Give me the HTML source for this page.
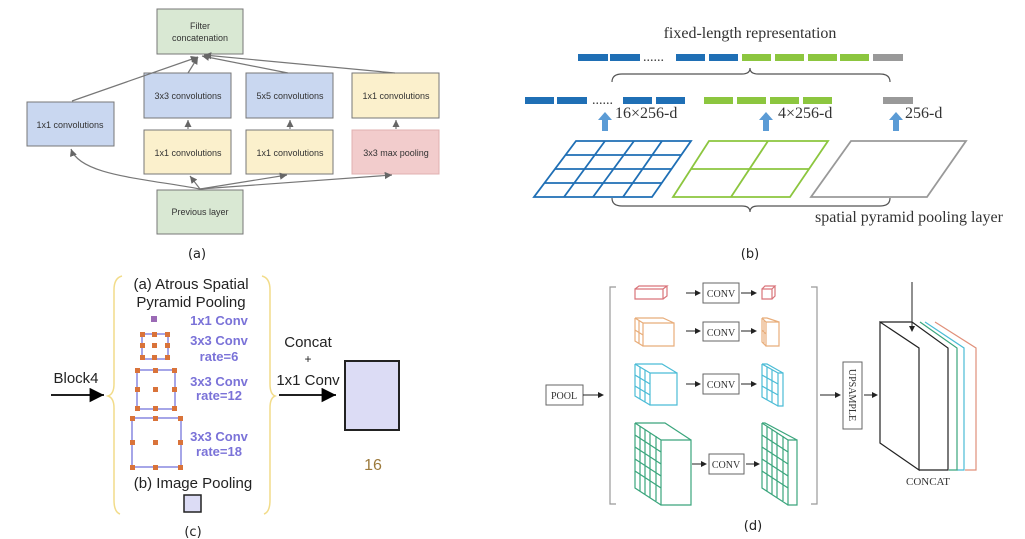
<!DOCTYPE html>
<html><head><meta charset="utf-8"><style>body{margin:0;background:#fff}svg{display:block}</style></head><body>
<svg width="1025" height="539" viewBox="0 0 1025 539" xmlns="http://www.w3.org/2000/svg">
<defs>
<marker id="ga" markerWidth="8" markerHeight="8" refX="6" refY="3" orient="auto"><path d="M0,0 L6,3 L0,6z" fill="#666"/></marker>
<marker id="ka" markerWidth="10" markerHeight="10" refX="8" refY="4" orient="auto"><path d="M0,0 L8,4 L0,8z" fill="#000"/></marker>
<marker id="sa" markerWidth="8" markerHeight="8" refX="5" refY="3" orient="auto"><path d="M0,0 L6,3 L0,6z" fill="#222"/></marker>
</defs>
<!-- (a) -->
<g stroke="#777" stroke-width="1">
<rect x="157" y="9" width="86" height="45" fill="#d9e8d3"/>
<rect x="144" y="73" width="87" height="45" fill="#c9d7f0"/>
<rect x="246" y="73" width="87" height="45" fill="#c9d7f0"/>
<rect x="352" y="73" width="87" height="45" fill="#fbf0cc"/>
<rect x="27" y="102" width="87" height="44" fill="#c9d7f0"/>
<rect x="144" y="130" width="87" height="44" fill="#fbf0cc"/>
<rect x="246" y="130" width="87" height="44" fill="#fbf0cc"/>
<rect x="352" y="130" width="87" height="44" fill="#f2cccc" stroke="#e0b0b0"/>
<rect x="157" y="190" width="86" height="44" fill="#d9e8d3"/>
</g>
<g fill="none" stroke="#777" stroke-width="1.2" marker-end="url(#ga)">
<path d="M72,101 L198,57"/><path d="M188,73 L198,57"/><path d="M288,73 L202,56"/><path d="M395,73 L204,55"/>
<path d="M188,129 L188,120"/><path d="M290,129 L290,120"/><path d="M396,129 L396,120"/>
<path d="M200,189 C140,178 80,175 71,149"/><path d="M200,189 L190,176"/><path d="M200,189 L287,175"/><path d="M200,189 L392,175"/>
</g>
<g font-family="Liberation Sans, sans-serif" font-size="9" fill="#333" text-anchor="middle">
<text x="200" y="29">Filter</text><text x="200" y="41">concatenation</text>
<text x="188" y="99">3x3 convolutions</text><text x="290" y="99">5x5 convolutions</text><text x="396" y="99">1x1 convolutions</text>
<text x="70" y="128">1x1 convolutions</text>
<text x="188" y="156">1x1 convolutions</text><text x="290" y="156">1x1 convolutions</text><text x="396" y="156">3x3 max pooling</text>
<text x="200" y="215">Previous layer</text>
</g>
<text x="197" y="258" font-family="DejaVu Sans, sans-serif" font-size="13" text-anchor="middle" fill="#222">(a)</text>
<!-- (b) -->
<g font-family="Liberation Serif, serif" font-size="16" fill="#333">
<text x="750" y="38" text-anchor="middle">fixed-length representation</text>
<text x="615" y="118">16×256-d</text><text x="778" y="118">4×256-d</text><text x="905" y="118">256-d</text>
<text x="815" y="222">spatial pyramid pooling layer</text>
<text x="643" y="61" font-size="14">......</text><text x="592" y="104" font-size="14">......</text>
</g>
<g fill="#1f6fb5">
<rect x="578" y="54" width="30" height="7"/><rect x="610" y="54" width="30" height="7"/><rect x="676" y="54" width="29" height="7"/><rect x="709" y="54" width="29" height="7"/>
<rect x="525" y="97" width="29" height="7"/><rect x="557" y="97" width="30" height="7"/><rect x="623" y="97" width="29" height="7"/><rect x="656" y="97" width="29" height="7"/>
</g>
<g fill="#8cc63f">
<rect x="742" y="54" width="29" height="7"/><rect x="775" y="54" width="29" height="7"/><rect x="808" y="54" width="29" height="7"/><rect x="840" y="54" width="29" height="7"/>
<rect x="704" y="97" width="29" height="7"/><rect x="737" y="97" width="29" height="7"/><rect x="770" y="97" width="29" height="7"/><rect x="803" y="97" width="29" height="7"/>
</g>
<g fill="#999"><rect x="873" y="54" width="30" height="7"/><rect x="883" y="97" width="30" height="7"/></g>
<g fill="#5b9bd5">
<path d="M602,131 h6 v-11 h4 l-7,-8 l-7,8 h4z"/><path d="M763,131 h6 v-11 h4 l-7,-8 l-7,8 h4z"/><path d="M893,131 h6 v-11 h4 l-7,-8 l-7,8 h4z"/>
</g>
<g fill="none" stroke="#555" stroke-width="1.2">
<path d="M612,82 Q612,74 622,74 L742,74 Q750,74 750,68 Q750,74 758,74 L880,74 Q890,74 890,82"/>
<path d="M612,198 Q612,206 622,206 L742,206 Q750,206 750,212 Q750,206 758,206 L880,206 Q890,206 890,198"/>
</g>
<g fill="none" stroke="#1f6fb5" stroke-width="1.8">
<path d="M576,141 L691,141 L652,197 L534,197Z"/>
<path d="M566,155 L681,155 M555,169 L671,169 M545,183 L662,183"/>
<path d="M605,141 L564,197 M634,141 L593,197 M662,141 L623,197"/>
</g>
<g fill="none" stroke="#8cc63f" stroke-width="1.8">
<path d="M709,141 L828,141 L790,197 L673,197Z"/><path d="M691,169 L809,169"/><path d="M768,141 L731,197"/>
</g>
<path d="M851,141 L966,141 L927,197 L811,197Z" fill="none" stroke="#999" stroke-width="1.8"/>
<text x="750" y="258" font-family="DejaVu Sans, sans-serif" font-size="13" text-anchor="middle" fill="#222">(b)</text>
<!-- (c) -->
<g fill="none" stroke="#f2dc8a" stroke-width="1.5">
<path d="M122,276 Q114,278 114,290 L114,384 Q114,394 108,396 Q114,398 114,408 L114,500 Q114,512 120,514"/>
<path d="M262,276 Q270,278 270,290 L270,384 Q270,394 275,396 Q270,398 270,408 L270,500 Q270,512 264,514"/>
</g>
<g font-family="Liberation Sans, sans-serif" font-size="15" fill="#222" text-anchor="middle">
<text x="191" y="289">(a) Atrous Spatial</text><text x="191" y="307">Pyramid Pooling</text>
<text x="193" y="488">(b) Image Pooling</text>
<text x="76" y="383">Block4</text>
<text x="308" y="347">Concat</text><text x="308" y="363" font-size="12">+</text><text x="308" y="385">1x1 Conv</text>
</g>
<g font-family="Liberation Sans, sans-serif" font-size="13" font-weight="bold" fill="#7a72d8" text-anchor="middle">
<text x="219" y="325">1x1 Conv</text>
<text x="219" y="345">3x3 Conv</text><text x="219" y="361">rate=6</text>
<text x="219" y="386">3x3 Conv</text><text x="219" y="400">rate=12</text>
<text x="219" y="441">3x3 Conv</text><text x="219" y="456">rate=18</text>
</g>
<rect x="151" y="316" width="6" height="6" fill="#9b6ab5"/>
<g fill="none" stroke="#6a6ad8" stroke-width="1.2">
<rect x="142" y="334" width="26" height="25"/><rect x="137" y="370" width="38" height="39"/><rect x="132" y="418" width="49" height="49"/>
</g>
<g fill="#d9733a">
<rect x="140" y="332" width="5" height="5"/><rect x="152" y="332" width="5" height="5"/><rect x="165" y="332" width="5" height="5"/>
<rect x="140" y="343" width="5" height="5"/><rect x="152" y="343" width="5" height="5"/><rect x="165" y="343" width="5" height="5"/>
<rect x="140" y="355" width="5" height="5"/><rect x="152" y="355" width="5" height="5"/><rect x="165" y="355" width="5" height="5"/>
<rect x="135" y="368" width="5" height="5"/><rect x="153" y="368" width="5" height="5"/><rect x="172" y="368" width="5" height="5"/>
<rect x="135" y="387" width="5" height="5"/><rect x="153" y="387" width="5" height="5"/><rect x="172" y="387" width="5" height="5"/>
<rect x="135" y="406" width="5" height="5"/><rect x="153" y="406" width="5" height="5"/><rect x="172" y="406" width="5" height="5"/>
<rect x="130" y="416" width="5" height="5"/><rect x="153" y="416" width="5" height="5"/><rect x="178" y="416" width="5" height="5"/>
<rect x="130" y="440" width="5" height="5"/><rect x="153" y="440" width="5" height="5"/><rect x="178" y="440" width="5" height="5"/>
<rect x="130" y="465" width="5" height="5"/><rect x="153" y="465" width="5" height="5"/><rect x="178" y="465" width="5" height="5"/>
</g>
<rect x="184" y="495" width="17" height="17" fill="#dcdcf5" stroke="#222" stroke-width="1.5"/>
<rect x="345" y="361" width="54" height="69" fill="#dcdcf5" stroke="#222" stroke-width="2"/>
<g stroke="#000" stroke-width="1.8" marker-end="url(#ka)"><path d="M51,395 L104,395"/><path d="M279,395 L336,395"/></g>
<text x="373" y="470" font-family="Liberation Sans, sans-serif" font-size="16" fill="#9c7a3c" text-anchor="middle">16</text>
<text x="193" y="536" font-family="DejaVu Sans, sans-serif" font-size="13" text-anchor="middle" fill="#222">(c)</text>
<!-- (d) -->
<g fill="none" stroke="#999" stroke-width="1.2">
<path d="M616,287 L610,287 L610,504 L616,504"/><path d="M811,287 L817,287 L817,504 L811,504"/>
</g>
<g font-family="Liberation Serif, serif" font-size="10" fill="#333" text-anchor="middle">
<rect x="546" y="385" width="37" height="20" fill="none" stroke="#666"/><text x="564" y="399">POOL</text>
<rect x="703" y="283" width="36" height="20" fill="none" stroke="#666"/><text x="721" y="297">CONV</text>
<rect x="703" y="322" width="36" height="19" fill="none" stroke="#666"/><text x="721" y="336">CONV</text>
<rect x="703" y="374" width="36" height="20" fill="none" stroke="#666"/><text x="721" y="388">CONV</text>
<rect x="709" y="454" width="35" height="20" fill="none" stroke="#666"/><text x="726" y="468">CONV</text>
<rect x="843" y="362" width="19" height="67" fill="none" stroke="#666"/>
<text transform="translate(849,395) rotate(90)" font-size="10">UPSAMPLE</text>
<text x="928" y="485" font-size="11">CONCAT</text>
</g>
<g stroke="#222" stroke-width="1" marker-end="url(#sa)" fill="none">
<path d="M583,395 L603,395"/><path d="M686,293 L700,293"/><path d="M741,293 L756,293"/>
<path d="M686,331 L700,331"/><path d="M741,331 L756,331"/><path d="M686,384 L700,384"/><path d="M741,384 L756,384"/>
<path d="M692,464 L706,464"/><path d="M746,464 L759,464"/>
<path d="M820,395 L840,395"/><path d="M864,395 L877,395"/><path d="M912,282 L912,331"/>
</g>
<g fill="none" stroke-width="1.2">
<g stroke="#d9747a"><path d="M635,289 h28 v10 h-28z M635,289 l4,-3 h28 l-4,3 M663,299 l4,-3 v-10"/><path d="M762,289 h10 v10 h-10z M762,289 l3,-3 h10 l-3,3 M772,299 l3,-3 v-10"/></g>
<g stroke="#e8ad7a"><path d="M643,323 h31 v23 h-31z M635,318 l8,5 M635,318 h28 l11,5 M635,318 v23 l8,5 M635,330 l8,5 M639,320 v23"/><path d="M766,322 h13 v24 h-13z M762,318 l4,4 M762,318 h5 l12,4 M762,318 v24 l4,4 M762,330 l4,4 M764,320 v24"/></g>
<g stroke="#4bbcd6"><path d="M650,373 h27 v32 h-27z M635,364 l15,9 M635,364 h27 l15,9 M635,364 v32 l15,9 M635,375 l15,9 M635,386 l15,9 M640,367 v32 M645,370 v32"/><path d="M778,373 h5 v33 h-5z M762,364 l16,9 M762,364 h5 l16,9 M762,364 v33 l16,9 M762,375 l16,9 M762,386 l16,9 M767,367 v33 M772,370 v33"/></g>
<g stroke="#3aa57c"><path d="M661,440 h30 v65 h-30z M635,423 l26,17 M635,423 h30 l26,17 M635,423 v65 l26,17 M635,435 l26,17 M635,447 l26,17 M635,459 l26,17 M635,471 l26,17 M640,426 v65 M645,430 v65 M650,433 v65 M656,436 v65"/><path d="M788,440 h9 v65 h-9z M762,423 l26,17 M762,423 h3 l32,17 M762,423 v65 l26,17 M762,435 l26,17 M762,447 l26,17 M762,459 l26,17 M762,471 l26,17 M767,426 v65 M772,430 v65 M777,433 v65 M783,436 v65"/></g>
</g>
<g fill="none" stroke-width="1.2">
<path d="M935,322 L976,348 L976,470 L965,470" stroke="#e0907a"/>
<path d="M925,322 L964,348 L964,470 L957,470" stroke="#4bbcd6"/>
<path d="M920,322 L957,348 L957,470 L949,470" stroke="#3aa57c"/>
<path d="M880,322 L919,348 L919,470 L880,443Z M880,322 L912,322 L948,348 L948,470 L919,470" stroke="#222"/>
</g>
<text x="753" y="530" font-family="DejaVu Sans, sans-serif" font-size="13" text-anchor="middle" fill="#222">(d)</text>
</svg>
</body></html>
